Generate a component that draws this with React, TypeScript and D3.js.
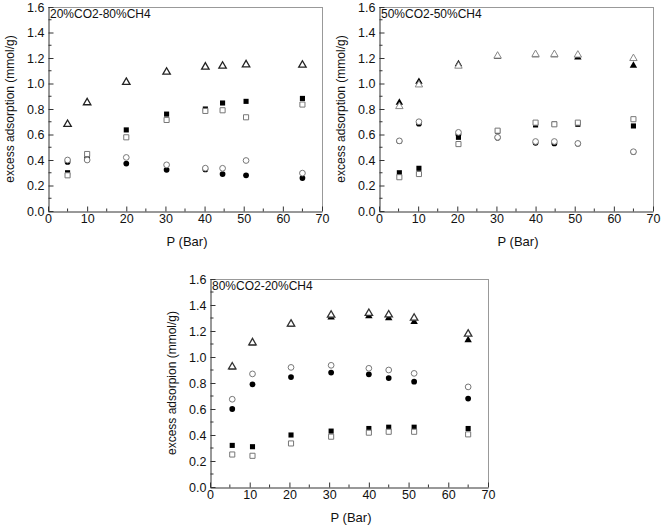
import { useEffect, useRef } from 'react';
import * as d3 from 'd3';

// pressure (bar) and excess adsorption (mmol/g) for each gas mixture
const p1X = [5, 10, 20, 30.3, 40.2, 44.6, 50.6, 65];
const p1OpenTri = [0.68, 0.85, 1.01, 1.09, 1.13, 1.137, 1.148, 1.145];
const p1FillSq = [0.30, 0.42, 0.636, 0.76, 0.80, 0.847, 0.86, 0.883];
const p1OpenSq = [0.28, 0.447, 0.578, 0.714, 0.785, 0.79, 0.735, 0.835];
const p1OpenCirc = [0.40, 0.40, 0.42, 0.362, 0.336, 0.335, 0.396, 0.297];
const p1FillCirc = [0.385, 0.41, 0.372, 0.323, 0.326, 0.29, 0.28, 0.258];

const p2X = [5.2, 10.2, 20.3, 30.3, 40, 44.8, 50.8, 65];
const p2FillTri = [0.85, 1.014, 1.153, 1.21, 1.222, 1.222, 1.205, 1.14];
const p2OpenTri = [0.82, 0.99, 1.137, 1.216, 1.229, 1.229, 1.224, 1.197];
const p2FillSq = [0.30, 0.335, 0.578, 0.625, 0.675, 0.682, 0.68, 0.667];
const p2OpenSq = [0.265, 0.29, 0.525, 0.63, 0.693, 0.68, 0.693, 0.72];
const p2OpenCirc = [0.55, 0.70, 0.617, 0.578, 0.545, 0.545, 0.53, 0.465];
const p2FillCirc = [0.548, 0.685, 0.60, 0.575, 0.535, 0.53, 0.528, 0.463];

const p3X = [5.6, 10.7, 20.4, 30.5, 40, 45, 51.4, 65];
const p3OpenTri = [0.925, 1.11, 1.254, 1.323, 1.336, 1.325, 1.30, 1.177];
const p3FillTri = [0.92, 1.105, 1.25, 1.305, 1.315, 1.30, 1.27, 1.13];
const p3OpenCirc = [0.675, 0.87, 0.92, 0.936, 0.913, 0.90, 0.874, 0.77];
const p3FillCirc = [0.60, 0.79, 0.846, 0.88, 0.867, 0.838, 0.81, 0.68];
const p3FillSq = [0.32, 0.31, 0.40, 0.43, 0.45, 0.46, 0.46, 0.45];
const p3OpenSq = [0.25, 0.24, 0.335, 0.387, 0.418, 0.425, 0.425, 0.405];

const titles = ['20%CO2-80%CH4', '50%CO2-50%CH4', '80%CO2-20%CH4'];
const yLabels = ['excess adsorption (mmol/g)', 'excess adsorption (mmol/g)', 'excess adsorpion (mmol/g)'];
const xLabel = 'P (Bar)';
const xTicks = [0, 10, 20, 30, 40, 50, 60, 70];
const yTicks = [0, 0.2, 0.4, 0.6, 0.8, 1.0, 1.2, 1.4, 1.6];

type Series = { values: number[]; shape: 'tri' | 'sq' | 'circ'; filled: boolean };

// filled markers first, open ones drawn over them
const panels: { x: number[]; series: Series[] }[] = [
  {
    x: p1X,
    series: [
      { values: p1FillSq, shape: 'sq', filled: true },
      { values: p1FillCirc, shape: 'circ', filled: true },
      { values: p1OpenTri, shape: 'tri', filled: false },
      { values: p1OpenSq, shape: 'sq', filled: false },
      { values: p1OpenCirc, shape: 'circ', filled: false },
    ],
  },
  {
    x: p2X,
    series: [
      { values: p2FillTri, shape: 'tri', filled: true },
      { values: p2FillSq, shape: 'sq', filled: true },
      { values: p2FillCirc, shape: 'circ', filled: true },
      { values: p2OpenTri, shape: 'tri', filled: false },
      { values: p2OpenSq, shape: 'sq', filled: false },
      { values: p2OpenCirc, shape: 'circ', filled: false },
    ],
  },
  {
    x: p3X,
    series: [
      { values: p3FillTri, shape: 'tri', filled: true },
      { values: p3FillSq, shape: 'sq', filled: true },
      { values: p3FillCirc, shape: 'circ', filled: true },
      { values: p3OpenTri, shape: 'tri', filled: false },
      { values: p3OpenSq, shape: 'sq', filled: false },
      { values: p3OpenCirc, shape: 'circ', filled: false },
    ],
  },
];

const boxes = [
  { left: 48, right: 322, top: 7, bottom: 211, triStroke: '#222' },
  { left: 379, right: 653, top: 7, bottom: 211, triStroke: '#888' },
  { left: 210, right: 488, top: 279, bottom: 487, triStroke: '#333' },
];

export default function App() {
  const svgRef = useRef<SVGSVGElement>(null);

  useEffect(() => {
    if (!svgRef.current) return;
    const svg = d3.select(svgRef.current);
    svg.selectAll('*').remove();

    const font = '"Liberation Sans", Arial, sans-serif';
    const symbols = {
      tri: d3.symbol().type(d3.symbolTriangle).size(24)(),
      sq: d3.symbol().type(d3.symbolSquare).size(26)(),
      circ: d3.symbol().type(d3.symbolCircle).size(26)(),
    };

    panels.forEach((panel, pi) => {
      const b = boxes[pi];
      const x = d3.scaleLinear().domain([0, 70]).range([b.left, b.right]);
      const y = d3.scaleLinear().domain([0, 1.6]).range([b.bottom, b.top]);
      const g = svg.append('g');

      // frame: top and right in gray
      g.append('line').attr('x1', b.left).attr('x2', b.right).attr('y1', b.top + 0.5).attr('y2', b.top + 0.5)
        .attr('stroke', '#999');
      g.append('line').attr('x1', b.right + 0.5).attr('x2', b.right + 0.5).attr('y1', b.top).attr('y2', b.bottom)
        .attr('stroke', '#999');

      const xAxis = g.append('g')
        .attr('transform', `translate(0,${b.bottom + 0.5})`)
        .call(d3.axisBottom(x).tickValues(xTicks).tickSizeInner(-5).tickSizeOuter(0).tickPadding(3).tickFormat(d3.format('d')));
      xAxis.selectAll('g.minor')
        .data(d3.range(5, 70, 10))
        .enter().append('line')
        .attr('x1', d => x(d)).attr('x2', d => x(d)).attr('y1', 0).attr('y2', -3)
        .attr('stroke', '#333');

      const yAxis = g.append('g')
        .attr('transform', `translate(${b.left + 0.5},0)`)
        .call(d3.axisLeft(y).tickValues(yTicks).tickSizeInner(-5).tickSizeOuter(0).tickPadding(4).tickFormat(d3.format('.1f')));
      yAxis.selectAll('g.minor')
        .data(d3.range(0.1, 1.6, 0.2))
        .enter().append('line')
        .attr('y1', d => y(d)).attr('y2', d => y(d)).attr('x1', 0).attr('x2', 3)
        .attr('stroke', '#333');

      [xAxis, yAxis].forEach(a => {
        a.select('.domain').attr('stroke', '#333');
        a.selectAll('.tick line').attr('stroke', '#333');
        a.selectAll('text').attr('font-size', 12.5).attr('font-family', font).attr('fill', '#111');
      });

      g.append('text')
        .attr('x', b.left + 2).attr('y', b.top + 11)
        .attr('font-size', 12).attr('font-family', font).attr('fill', '#111')
        .text(titles[pi]);

      g.append('text')
        .attr('x', (b.left + b.right) / 2 + 2).attr('y', b.bottom + 35)
        .attr('text-anchor', 'middle')
        .attr('font-size', 13).attr('font-family', font).attr('fill', '#111')
        .text(xLabel);

      const ly = (b.top + b.bottom) / 2;
      g.append('text')
        .attr('transform', `translate(${b.left - 34},${ly}) rotate(-90)`)
        .attr('text-anchor', 'middle')
        .attr('font-size', 12).attr('font-family', font).attr('fill', '#111')
        .text(yLabels[pi]);

      panel.series.forEach(s => {
        const pts = panel.x.map((px, i) => [px, s.values[i]] as [number, number]);
        const strokeCol = s.shape === 'tri' ? b.triStroke : '#777';
        g.selectAll(null)
          .data(pts)
          .enter().append('path')
          .attr('d', symbols[s.shape])
          .attr('transform', d => `translate(${x(d[0])},${y(d[1])})`)
          .attr('fill', s.filled ? '#000' : '#fff')
          .attr('stroke', s.filled ? 'none' : strokeCol)
          .attr('stroke-width', s.shape === 'tri' && !s.filled && pi !== 1 ? 1.3 : 1);
      });
    });
  }, []);

  return (
    <svg
      ref={svgRef}
      width={661}
      height={526}
      style={{ position: 'absolute', left: 0, top: 0, background: '#fff' }}
    ></svg>
  );
}
